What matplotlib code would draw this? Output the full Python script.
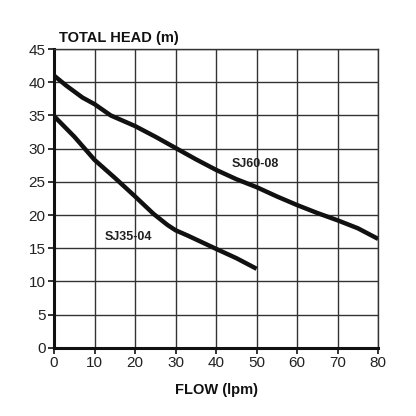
import matplotlib.pyplot as plt

plt.rcParams['font.family'] = ['Liberation Sans', 'DejaVu Sans']

# pump curves
sj60_flow = [0, 3, 7, 10, 14, 20, 25, 30, 35, 40, 45, 50, 55, 60, 65, 70, 75, 80]
sj60_head = [41.0, 39.5, 37.7, 36.7, 35.0, 33.4, 31.8, 30.1, 28.4, 26.8, 25.4, 24.2, 22.8, 21.5, 20.3, 19.2, 18.0, 16.4]

sj35_flow = [0, 5, 10, 15, 20, 24.5, 28, 30, 33, 40, 45, 50]
sj35_head = [34.9, 31.8, 28.3, 25.6, 22.8, 20.2, 18.5, 17.7, 16.9, 14.9, 13.5, 11.9]

x_ticks = [0, 10, 20, 30, 40, 50, 60, 70, 80]
y_ticks = [0, 5, 10, 15, 20, 25, 30, 35, 40, 45]

fig = plt.figure(figsize=(4.16, 4.16), dpi=100)
ax = fig.add_axes([0.130, 0.164, 0.779, 0.718])

ax.plot(sj60_flow, sj60_head, color='#111111', linewidth=3.2, solid_capstyle='butt')
ax.plot(sj35_flow, sj35_head, color='#111111', linewidth=3.2, solid_capstyle='butt')

ax.set_xlim(0, 80)
ax.set_ylim(0, 45)
ax.set_xticks(x_ticks)
ax.set_yticks(y_ticks)
ax.grid(True, color='#333333', linewidth=1.0)
ax.set_axisbelow(True)

for side in ['top', 'right']:
    ax.spines[side].set_linewidth(1.0)
    ax.spines[side].set_color('#333333')
for side in ['left', 'bottom']:
    ax.spines[side].set_linewidth(2.2)
    ax.spines[side].set_color('#111111')

ax.tick_params(length=4, width=1.2, color='#111111', labelsize=11,
               labelcolor='#222222', pad=2)

ax.text(43.8, 27.3, 'SJ60-08', fontsize=9, fontweight='bold', color='#222222')
ax.text(12.4, 16.2, 'SJ35-04', fontsize=9, fontweight='bold', color='#222222')

fig.text(0.143, 0.908, 'TOTAL HEAD (m)', fontsize=10.5, fontweight='bold',
         color='#111111', va='center')
fig.text(0.52, 0.062, 'FLOW (lpm)', fontsize=10.5, fontweight='bold',
         color='#111111', ha='center', va='center')

fig.savefig('out.png', dpi=100, facecolor='white')
